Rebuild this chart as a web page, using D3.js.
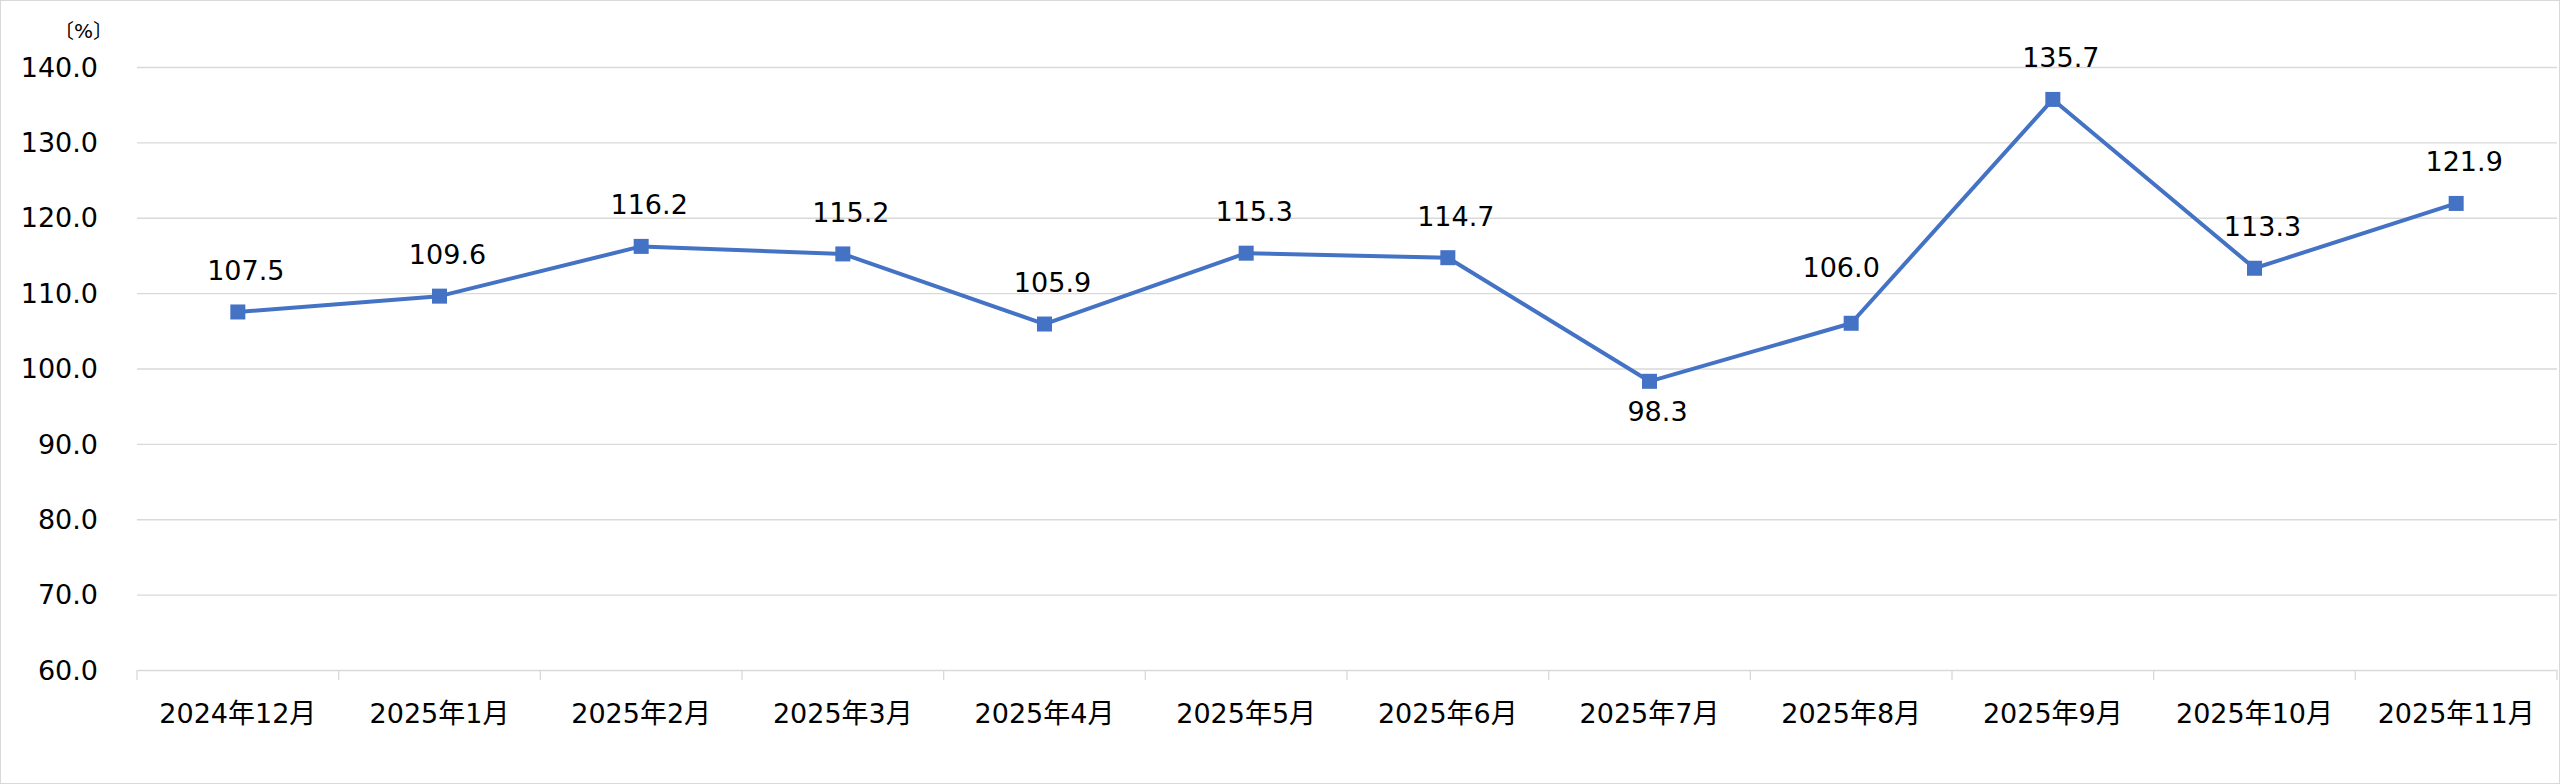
<!DOCTYPE html>
<html>
<head>
<meta charset="utf-8">
<script src="https://cdn.jsdelivr.net/npm/d3@7"></script>
<style>
    body { margin: 0; background: #fff; }
    svg { display: block; }
</style>
</head>
<body>
<div id="chart"></div>
<script>
const months = ["2024年12月", "2025年1月", "2025年2月", "2025年3月", "2025年4月", "2025年5月",
    "2025年6月", "2025年7月", "2025年8月", "2025年9月", "2025年10月", "2025年11月"];
const rates = [107.5, 109.6, 116.2, 115.2, 105.9, 115.3, 114.7, 98.3, 106.0, 135.7, 113.3, 121.9];
const yTicks = [60, 70, 80, 90, 100, 110, 120, 130, 140];
const unitLabel = "〔%〕";

function drawChart() {
    var width = 2560;
    var height = 784;
    var margin = ({ top: 67, right: 3, bottom: 114, left: 137 });
    var font = "'DejaVu Sans', 'Noto Sans CJK JP', sans-serif";

    var x = d3.scaleBand()
        .domain(months)
        .range([margin.left, width - margin.right]);

    var y = d3.scaleLinear()
        .domain([60, 140])
        .range([height - margin.bottom, margin.top]);

    const svg = d3.select("#chart").append("svg")
        .attr("width", width)
        .attr("height", height);

    // frame
    svg.append("rect")
        .attr("x", 0.5).attr("y", 0.5)
        .attr("width", width - 1).attr("height", height - 1)
        .attr("fill", "white")
        .attr("stroke", "#d9d9d9");

    // grid
    svg.append("g")
        .attr("transform", `translate(${margin.left},0)`)
        .call(d3.axisLeft(y).tickValues(yTicks.slice(1))
            .tickSize(-(width - margin.left - margin.right)).tickFormat(""))
        .call(g => g.select(".domain").remove())
        .call(g => g.selectAll("line").attr("stroke", "#d9d9d9").attr("stroke-width", 1.3));

    // y labels
    svg.append("g")
        .attr("font-family", font)
        .attr("font-size", 27)
        .attr("text-anchor", "end")
        .selectAll("text")
        .data(yTicks)
        .join("text")
        .attr("x", 98)
        .attr("y", d => y(d))
        .attr("dy", "0.36em")
        .attr("fill", "#000")
        .text(d => d.toFixed(1));

    svg.append("text")
        .attr("x", 113)
        .attr("y", 38)
        .attr("text-anchor", "end")
        .attr("font-family", font)
        .attr("font-size", 20)
        .text(unitLabel);

    // x axis
    svg.append("g")
        .attr("transform", `translate(0,${y(60)})`)
        .call(d3.axisBottom(x).tickSize(0).tickFormat(d => d))
        .call(g => g.select(".domain").attr("stroke", "#d9d9d9").attr("stroke-width", 1.5))
        .call(g => g.selectAll("text")
            .attr("font-family", font)
            .attr("font-size", 27)
            .attr("fill", "#000")
            .attr("y", 44)
            .attr("dy", "0.35em"));

    svg.append("g")
        .attr("stroke", "#d9d9d9")
        .attr("stroke-width", 1.3)
        .selectAll("line")
        .data(months.concat([null]))
        .join("line")
        .attr("x1", (d, i) => margin.left + i * x.step())
        .attr("x2", (d, i) => margin.left + i * x.step())
        .attr("y1", y(60))
        .attr("y2", y(60) + 10);

    var cx = d => x(d) + x.bandwidth() / 2;

    svg.append("path")
        .datum(rates)
        .attr("fill", "none")
        .attr("stroke", "#4472c4")
        .attr("stroke-width", 4)
        .attr("stroke-linejoin", "round")
        .attr("d", d3.line().x((d, i) => cx(months[i])).y(d => y(d)));

    svg.append("g")
        .attr("fill", "#4472c4")
        .selectAll("rect")
        .data(rates)
        .join("rect")
        .attr("x", (d, i) => cx(months[i]) - 7.5)
        .attr("y", d => y(d) - 7.5)
        .attr("width", 15)
        .attr("height", 15);

    // value labels, above the point except where the line dips;
    // pushed up-left when the next segment climbs steeply
    var steep = i => i < rates.length - 1 && rates[i + 1] - rates[i] > 15;

    svg.append("g")
        .attr("font-family", font)
        .attr("font-size", 27)
        .attr("text-anchor", "middle")
        .selectAll("text")
        .data(rates)
        .join("text")
        .attr("x", (d, i) => cx(months[i]) + (steep(i) ? -10 : 8))
        .attr("y", (d, i) => {
            var below = i > 0 && i < rates.length - 1 && d < rates[i - 1] && d < rates[i + 1] && d < 100;
            if (below) return y(d) + 40;
            return y(d) - (steep(i) ? 46 : 32);
        })
        .attr("fill", "#000")
        .text(d => d.toFixed(1));
}

drawChart();
</script>
</body>
</html>
